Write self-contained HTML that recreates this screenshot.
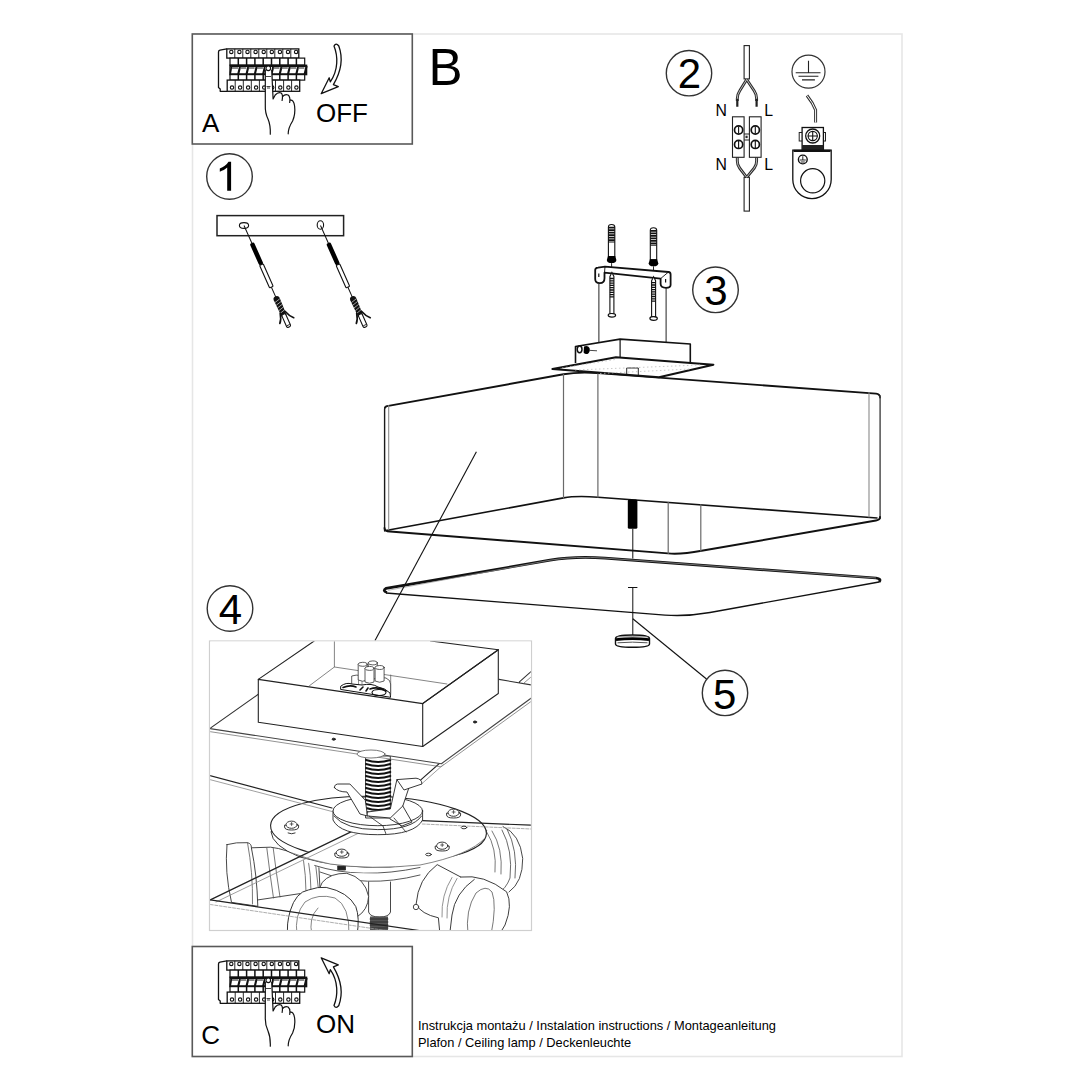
<!DOCTYPE html>
<html><head><meta charset="utf-8">
<style>
html,body{margin:0;padding:0;background:#fff;width:1090px;height:1090px;overflow:hidden}
svg{position:absolute;left:0;top:0;display:block}
text{font-family:"Liberation Sans",sans-serif;fill:#000}
</style></head><body>
<svg width="1090" height="1090" viewBox="0 0 1090 1090">
<!-- outer frame -->
<rect x="192.5" y="34" width="709.5" height="1022.5" fill="none" stroke="#e6e6e6" stroke-width="1.6"/>
<!-- box A / C -->
<rect x="192.3" y="34" width="220" height="110" fill="#fff" stroke="#595959" stroke-width="1.6"/>
<rect x="192.3" y="946.5" width="220" height="110" fill="#fff" stroke="#595959" stroke-width="1.6"/>
<text x="202" y="132.4" font-size="26">A</text>
<text x="316" y="121.8" font-size="26">OFF</text>
<text x="201.3" y="1044" font-size="26">C</text>
<text x="316" y="1033" font-size="26">ON</text>
<text x="428.5" y="84.5" font-size="51">B</text>
<!-- circles -->
<g fill="none" stroke="#333" stroke-width="1.4">
<circle cx="229.5" cy="176.5" r="22.8"/>
<circle cx="689" cy="73.2" r="22.7"/>
<circle cx="715.5" cy="289.8" r="22.8"/>
<circle cx="230" cy="608.5" r="22.8"/>
<circle cx="725" cy="692.9" r="22.7"/>
</g>
<path d="M227.2,190.7 H231.1 V161.8 H228.5 C226.5,165 223.5,167 219.8,168.4 V171.7 C222.5,170.8 225.3,169.5 227.2,167.6 Z" fill="#000"/>
<g font-size="42" text-anchor="middle">
<text x="689.5" y="88">2</text>
<text x="716" y="304.8">3</text>
<text x="230.5" y="623.6">4</text>
<text x="724.8" y="708.6">5</text>
</g>
<text x="418" y="1030" font-size="12.83">Instrukcja montażu / Instalation instructions / Montageanleitung</text>
<text x="418" y="1047" font-size="12.83">Plafon / Ceiling lamp / Deckenleuchte</text>
<!-- SHADE -->
<g fill="none" stroke="#111" stroke-linecap="round" stroke-linejoin="round">
<path stroke-width="1.9" d="M385,407.6 Q385.5,406.5 387,406.1 L563.5,374.3 Q578,371.7 598,373.1 L876,393.6 Q880,394.2 880.1,397.5"/>
<path stroke-width="1.4" stroke="#1a1a1a" d="M384.6,531 V409 Q384.6,407 386,406.3"/>
<path stroke-width="1.4" stroke="#444" d="M880.1,396 V518.5"/>
<path stroke-width="1.6" d="M386,530.5 L563.5,497.9 Q576,495.6 598,497.2 L877,518"/>
<path stroke-width="1.9" d="M384.5,528 Q384.5,531.5 390,531.5 L668,553.4 Q681,554.6 701.6,550.8 L876,520.5 Q880,519.8 880,517"/>
<path stroke-width="1.1" stroke="#8a8a8a" d="M388.7,405.5 V529.5 M869,392.6 V517"/><path stroke-width="1.2" stroke="#6a6a6a" d="M563.5,374.3 V497.9 M597.9,373.1 V497.2 M668.2,502.3 V553.4 M700.8,504.7 V551"/>
</g>
<!-- rod / diffuser / knob -->
<rect x="627.8" y="499.4" width="9.6" height="29.3" rx="1.5" fill="#000"/>
<path d="M632.8,528.7 V558.6" stroke="#111" stroke-width="1" fill="none"/>
<g fill="none" stroke="#111" stroke-linejoin="round">
<path stroke-width="2.7" d="M387,592.5 Q382,591 386,588.3 L550,560.2 Q575.2,555.9 605,558.1 L876,578 Q882,578.8 879,582"/><path stroke-width="0.7" stroke="#999" d="M388,590.3 L550,560.2 Q575.2,555.9 605,558.1 L876,578"/>
<path stroke-width="1.3" d="M386,593 L665,615.06 Q686.3,616.66 710,612.5 L879,582"/>
</g>
<path d="M628,587.5 H637.4 M632.8,587.5 V636" stroke="#111" stroke-width="1" fill="none"/>
<g fill="none" stroke="#111">
<path d="M615.5,638.5 Q615.5,635 632.5,635 Q649.5,635 649.5,638.5 V644 Q649.5,647.3 632.5,647.3 Q615.5,647.3 615.5,644 Z" fill="#fff" stroke="#111" stroke-width="1.4"/>
<path d="M616,639.6 Q632.5,637.6 649,639.6" stroke="#000" stroke-width="2.6"/>
<path d="M617,637 Q632.5,636 648,637" stroke="#777" stroke-width="0.7"/>
<path d="M617.5,642.8 Q632.5,641.5 647.5,642.8" stroke="#555" stroke-width="1"/>
</g>
<!-- leader lines -->
<path d="M476.4,451.8 L375,640.5" stroke="#111" stroke-width="1.1" fill="none"/>
<path d="M632.8,618.7 L706.5,679" stroke="#111" stroke-width="1.1" fill="none"/>
<!-- SECTION 3 -->
<g transform="translate(611.6,224.5)">
<path d="M-3.2,2.5 Q-3.2,0 0,0 Q3.2,0 3.2,2.5 V32.2 H-3.2 Z" fill="#fff" stroke="#111" stroke-width="1.1"/>
<path d="M-3.2,3.2 H3.2 M-3.2,5.7 H3.2 M-3.2,8.2 H3.2 M-3.2,10.7 H3.2 M-3.2,13.2 H3.2 M-3.2,15.7 H3.2" stroke="#111" stroke-width="1.7"/><path d="M-3.2,17.5 H3.2" stroke="#111" stroke-width="1"/>
<path d="M-3.6,31.5 H3.6 L4.8,35.5 Q4.8,38.6 0,38.6 Q-4.8,38.6 -4.8,35.5 Z" fill="#000"/>
<path d="M0,38.6 V43" stroke="#111" stroke-width="0.9"/>
</g><g transform="translate(653.5,227.7)">
<path d="M-3.2,2.5 Q-3.2,0 0,0 Q3.2,0 3.2,2.5 V32.2 H-3.2 Z" fill="#fff" stroke="#111" stroke-width="1.1"/>
<path d="M-3.2,3.2 H3.2 M-3.2,5.7 H3.2 M-3.2,8.2 H3.2 M-3.2,10.7 H3.2 M-3.2,13.2 H3.2 M-3.2,15.7 H3.2" stroke="#111" stroke-width="1.7"/><path d="M-3.2,17.5 H3.2" stroke="#111" stroke-width="1"/>
<path d="M-3.6,31.5 H3.6 L4.8,35.5 Q4.8,38.6 0,38.6 Q-4.8,38.6 -4.8,35.5 Z" fill="#000"/>
<path d="M0,38.6 V43" stroke="#111" stroke-width="0.9"/>
</g>
<g fill="#fff" stroke="#111" stroke-linejoin="round">
<path stroke-width="1.8" d="M595.2,270 Q595.2,267.8 598,267.6 L605,266.7 L668.5,272 Q670.6,272.3 670.6,274.5 V285 Q670.6,287.8 666,287.8 Q660.8,287.8 660.6,284 V278.6 L604.5,272.6 V278.3 Q604.5,283.2 599.8,283.2 Q595.2,283.2 595.2,279 Z"/>
<path stroke-width="0.9" fill="none" d="M604.5,272.6 L605,266.7 M660.6,278.6 L668.5,272"/>
<path stroke-width="1.2" fill="none" d="M598.8,273.5 V277 M665.6,279 V282.5"/>
</g>
<g transform="translate(611.9,272.5)">
<path d="M-2,4 L0,0 L2,4 V41 H-2 Z" fill="#fff" stroke="#111" stroke-width="1.1"/>
<path d="M-2,6 H2 M-2,8.3 H2 M-2,10.6 H2 M-2,12.9 H2 M-2,15.2 H2 M-2,17.5 H2 M-2,19.8 H2 M-2,22.1 H2 M-2,24.4 H2" stroke="#111" stroke-width="1.3"/>
<ellipse cx="0" cy="42.8" rx="3.7" ry="1.8" fill="#fff" stroke="#111" stroke-width="1.2"/>
</g><g transform="translate(653.6,276.7)">
<path d="M-2,4 L0,0 L2,4 V40 H-2 Z" fill="#fff" stroke="#111" stroke-width="1.1"/>
<path d="M-2,6 H2 M-2,8.3 H2 M-2,10.6 H2 M-2,12.9 H2 M-2,15.2 H2 M-2,17.5 H2 M-2,19.8 H2 M-2,22.1 H2 M-2,24.4 H2" stroke="#111" stroke-width="1.3"/>
<ellipse cx="0" cy="41.8" rx="3.7" ry="1.8" fill="#fff" stroke="#111" stroke-width="1.2"/>
</g>
<path d="M598.9,283.2 V342.5 M666.1,287.8 V343.4" stroke="#222" stroke-width="1" fill="none"/>
<!-- canopy -->
<g stroke="#111" stroke-linejoin="round">
<path d="M575.5,363 V346.5 L620.1,339.1 L690.3,344 V362.2" fill="#fff" stroke-width="1.6"/>
<path d="M620.1,339.1 V357.5" fill="none" stroke-width="1.2"/>
<path d="M552.4,369.1 L616,357.2 L713.4,364.7 L659,377.2 Z" fill="#fff" stroke-width="2"/>
<path d="M626.7,374.5 V368 H638.3 V375.5" fill="none" stroke-width="0.9"/>
</g>
<ellipse cx="579.6" cy="349.3" rx="2.4" ry="3.4" fill="#fff" stroke="#111" stroke-width="1.5"/><path d="M584,346.5 Q588,345.2 589.5,348 Q590.5,351.5 588,353.8 Q585,354.6 583.6,352.5 Z" fill="#000"/>
<path d="M589,350.3 L597,350.8" stroke="#333" stroke-width="0.9" fill="none"/>
<g stroke="#bbb" stroke-width="0.8" stroke-dasharray="1.5 2.5" fill="none">
<path d="M562,368 L615,359.5 M575,370 L700,365 M600,373.5 L690,369"/>
</g>
<!-- SECTION 1 -->
<rect x="217" y="215.6" width="126.6" height="20.1" fill="#fff" stroke="#222" stroke-width="1.5"/>
<ellipse cx="244" cy="225.5" rx="4.6" ry="2.9" fill="none" stroke="#111" stroke-width="1.1"/>
<ellipse cx="320.4" cy="225" rx="3.2" ry="4.3" fill="none" stroke="#111" stroke-width="1.1"/>
<g transform="translate(244,225.5) rotate(66.04)">
<path d="M0,0 H19.5 M67.5,0 H78.1" stroke="#111" stroke-width="1"/>
<rect x="19.1" y="-2.3" width="23.9" height="4.6" rx="1.8" fill="#000"/>
<rect x="42.8" y="-2" width="24.7" height="4" rx="1" fill="#fff" stroke="#111" stroke-width="1.1"/>
<path d="M77.5,0 Q77.8,-3.2 80.5,-3.2 L99,-2.6 L99,2.6 L80.5,3.2 Q77.8,3.2 77.5,0 Z" fill="#111"/>
<path d="M81.5,-3 L83,3 M84.5,-3 L86,3 M87.5,-3 L89,3 M90.5,-2.8 L92,2.8 M93.5,-2.7 L95,2.7" stroke="#fff" stroke-width="0.55"/>
<path d="M95,-2.6 Q101,-4.5 104.5,-8 M95,2.6 Q101,4 104,7" stroke="#111" stroke-width="1.7" fill="none" stroke-linecap="round"/>
<rect x="97" y="-2.1" width="14" height="4.2" rx="1.5" fill="#fff" stroke="#111" stroke-width="1.1"/>
<path d="M109,-1.6 V1.6" stroke="#111" stroke-width="0.8"/>
</g><g transform="translate(320.5,225.5) rotate(66.04)">
<path d="M0,0 H19.5 M67.5,0 H78.1" stroke="#111" stroke-width="1"/>
<rect x="19.1" y="-2.3" width="23.9" height="4.6" rx="1.8" fill="#000"/>
<rect x="42.8" y="-2" width="24.7" height="4" rx="1" fill="#fff" stroke="#111" stroke-width="1.1"/>
<path d="M77.5,0 Q77.8,-3.2 80.5,-3.2 L99,-2.6 L99,2.6 L80.5,3.2 Q77.8,3.2 77.5,0 Z" fill="#111"/>
<path d="M81.5,-3 L83,3 M84.5,-3 L86,3 M87.5,-3 L89,3 M90.5,-2.8 L92,2.8 M93.5,-2.7 L95,2.7" stroke="#fff" stroke-width="0.55"/>
<path d="M95,-2.6 Q101,-4.5 104.5,-8 M95,2.6 Q101,4 104,7" stroke="#111" stroke-width="1.7" fill="none" stroke-linecap="round"/>
<rect x="97" y="-2.1" width="14" height="4.2" rx="1.5" fill="#fff" stroke="#111" stroke-width="1.1"/>
<path d="M109,-1.6 V1.6" stroke="#111" stroke-width="0.8"/>
</g>
<!-- SECTION 2 -->
<g fill="#fff" stroke="#222" stroke-width="1.1">
<rect x="744.1" y="45.6" width="5.3" height="33.3"/>
<rect x="744.1" y="177.3" width="5.3" height="33.8"/>
</g>
<g fill="none" stroke="#222" stroke-linecap="butt">
<path d="M746.7,79.5 L739.6,91 Q737.3,94.5 737.3,98.5 V101 M746.7,79.5 L754.3,91 Q756.6,94.5 756.6,98.5 V101" stroke-width="2.9" stroke="#2a2a2a"/>
<path d="M746.7,79.5 L739.6,91 Q737.3,94.5 737.3,98.5 V101 M746.7,79.5 L754.3,91 Q756.6,94.5 756.6,98.5 V101" stroke-width="0.9" stroke="#ccc"/>
<path d="M737.3,99 V106.7 M756.6,99 V106.7" stroke-width="2.2" stroke="#222"/>
<path d="M737.3,157.3 V161 Q737.3,165 739.6,168 L746.7,177.3 M756.6,157.3 V161 Q756.6,165 754.3,168 L746.7,177.3" stroke-width="2.9" stroke="#2a2a2a"/>
<path d="M737.3,157.3 V161 Q737.3,165 739.6,168 L746.7,177.3 M756.6,157.3 V161 Q756.6,165 754.3,168 L746.7,177.3" stroke-width="0.9" stroke="#ccc"/>
</g>
<g fill="#fff" stroke="#222" stroke-width="1.1">
<rect x="732.5" y="116.8" width="11.6" height="40.5"/>
<rect x="749.4" y="116.8" width="11.7" height="40.5"/>
<path d="M744.1,134 H749.4 M744.1,140 H749.4" fill="none"/>
<rect x="745.8" y="136" width="1.8" height="1.8" stroke-width="0.6"/>
</g>
<g fill="#fff" stroke="#111" stroke-width="1.7">
<circle cx="738.6" cy="130" r="4.1"/><circle cx="738.6" cy="144.4" r="4.1"/>
<circle cx="755.3" cy="130" r="4.1"/><circle cx="755.3" cy="144.4" r="4.1"/>
</g>
<path d="M738.6,126.5 V133.5 M738.6,141 V148 M755.3,126.5 V133.5 M755.3,141 V148" stroke="#111" stroke-width="1.1"/>
<g font-size="15.8">
<text x="715.6" y="116.1">N</text><text x="764.3" y="116.1">L</text>
<text x="715.6" y="170.2">N</text><text x="764.3" y="170.2">L</text>
</g>
<!-- ground -->
<circle cx="808.5" cy="71.7" r="16.5" fill="none" stroke="#333" stroke-width="1.2"/>
<path d="M808.5,60.7 V72.7 M795.7,72.7 H820.5 M798.5,76.3 H818.4 M802,79.9 H814.9" stroke="#222" stroke-width="1.1" fill="none"/>
<path d="M807,95.5 Q813,103 815.6,110 V122.5" stroke="#333" stroke-width="3" fill="none"/>
<path d="M807,95.5 Q813,103 815.6,110 V122.5" stroke="#fff" stroke-width="1" fill="none"/>
<path d="M792.8,150.2 H831.2 V179.4 A19.2,19.2 0 0 1 792.8,179.4 Z" fill="#fff" stroke="#111" stroke-width="1.3"/>
<path d="M793.5,150.8 H830.5" stroke="#111" stroke-width="2.2"/>
<circle cx="812.7" cy="180.8" r="12.1" fill="none" stroke="#111" stroke-width="1.2"/>
<circle cx="802.8" cy="159.5" r="4.4" fill="none" stroke="#111" stroke-width="1.4"/>
<path d="M802.8,156.2 V160 M799.8,160 H805.8 M800.8,162 H804.8" stroke="#111" stroke-width="0.9"/>
<rect x="799.2" y="132.5" width="26.3" height="8.5" fill="#fff" stroke="#222" stroke-width="1"/>
<rect x="802.1" y="127.5" width="21.3" height="22" fill="#fff" stroke="#111" stroke-width="1.3"/>
<rect x="802.1" y="145" width="21.3" height="4.5" fill="#222"/>
<circle cx="812.7" cy="136" r="7" fill="#fff" stroke="#111" stroke-width="1.3"/>
<circle cx="812.7" cy="136" r="4.6" fill="none" stroke="#111" stroke-width="1.1"/>
<path d="M812.7,131 V141 M807.7,136 H817.7" stroke="#111" stroke-width="1.1"/>
<!-- BOX A/C icons -->
<g transform="translate(0,0)">
<path d="M226.8,48.9 L220,50.2 Q218.5,50.6 218.5,52 V87.6 L220.2,89 V91.3 H227.2" fill="#fff" stroke="#111" stroke-width="1.3" stroke-linejoin="round"/>
<rect x="226.8" y="48.9" width="72" height="9.2" fill="#fff" stroke="#111" stroke-width="1.3"/>
<path d="M234.8,48.9 V58.1 M242.8,48.9 V58.1 M250.8,48.9 V58.1 M258.8,48.9 V58.1 M266.8,48.9 V58.1 M274.8,48.9 V58.1 M282.8,48.9 V58.1 M290.8,48.9 V58.1 " stroke="#111" stroke-width="0.9"/>
<circle cx="231.3" cy="51.9" r="1.7" fill="#fff" stroke="#111" stroke-width="1.1"/>
<circle cx="239.4" cy="51.9" r="1.7" fill="#fff" stroke="#111" stroke-width="1.1"/>
<circle cx="247.5" cy="51.9" r="1.7" fill="#fff" stroke="#111" stroke-width="1.1"/>
<circle cx="255.6" cy="51.9" r="1.7" fill="#fff" stroke="#111" stroke-width="1.1"/>
<circle cx="263.7" cy="51.9" r="1.7" fill="#fff" stroke="#111" stroke-width="1.1"/>
<circle cx="271.8" cy="51.9" r="1.7" fill="#fff" stroke="#111" stroke-width="1.1"/>
<circle cx="279.9" cy="51.9" r="1.7" fill="#fff" stroke="#111" stroke-width="1.1"/>
<circle cx="288.0" cy="51.9" r="1.7" fill="#fff" stroke="#111" stroke-width="1.1"/>
<circle cx="296.1" cy="51.9" r="1.7" fill="#fff" stroke="#111" stroke-width="1.1"/>
<rect x="230" y="58.1" width="74.7" height="7" fill="#fff" stroke="#111" stroke-width="1.2"/>
<path d="M238.3,58.1 V65.1 M246.6,58.1 V65.1 M254.9,58.1 V65.1 M263.2,58.1 V65.1 M271.5,58.1 V65.1 M279.8,58.1 V65.1 M288.1,58.1 V65.1 M296.4,58.1 V65.1 " stroke="#111" stroke-width="1.5"/>
<rect x="230" y="65.3" width="76.6" height="9.3" fill="#fff" stroke="#111" stroke-width="1.4"/>
<path d="M231.6,66 L230.2,74" stroke="#111" stroke-width="1.6"/><path d="M240.2,66 L238.2,74.2 M248.5,66 L246.5,74.2 M256.8,66 L254.8,74.2 M265.1,66 L263.1,74.2 M273.4,66 L271.4,74.2 M281.7,66 L279.7,74.2 M290.0,66 L288.0,74.2 M298.3,66 L296.3,74.2 M306.6,66 L304.6,74.2 " stroke="#111" stroke-width="2.1"/>
<path d="M230,66.1 H306.6 M230,74 H306.6" stroke="#111" stroke-width="1.7"/><path d="M232,68 H305" stroke="#666" stroke-width="1.3" stroke-dasharray="6 2.3"/>
<rect x="230" y="74.6" width="74.7" height="5.5" fill="#fff" stroke="#111" stroke-width="1.2"/>
<path d="M238.3,74.6 V80.1 M246.6,74.6 V80.1 M254.9,74.6 V80.1 M263.2,74.6 V80.1 M271.5,74.6 V80.1 M279.8,74.6 V80.1 M288.1,74.6 V80.1 M296.4,74.6 V80.1 " stroke="#111" stroke-width="1.5"/>
<rect x="227.2" y="80.1" width="72.5" height="11.2" fill="#fff" stroke="#111" stroke-width="1.3"/>
<path d="M235.2,80.1 V91.3 M243.3,80.1 V91.3 M251.3,80.1 V91.3 M259.4,80.1 V91.3 M267.4,80.1 V91.3 M275.5,80.1 V91.3 M283.6,80.1 V91.3 M291.6,80.1 V91.3 " stroke="#111" stroke-width="0.9"/>
<circle cx="232.0" cy="87.6" r="1.7" fill="#fff" stroke="#111" stroke-width="1.1"/>
<circle cx="240.1" cy="87.6" r="1.7" fill="#fff" stroke="#111" stroke-width="1.1"/>
<circle cx="248.1" cy="87.6" r="1.7" fill="#fff" stroke="#111" stroke-width="1.1"/>
<circle cx="256.1" cy="87.6" r="1.7" fill="#fff" stroke="#111" stroke-width="1.1"/>
<circle cx="264.2" cy="87.6" r="1.7" fill="#fff" stroke="#111" stroke-width="1.1"/>
<circle cx="272.2" cy="87.6" r="1.7" fill="#fff" stroke="#111" stroke-width="1.1"/>
<circle cx="280.3" cy="87.6" r="1.7" fill="#fff" stroke="#111" stroke-width="1.1"/>
<circle cx="288.4" cy="87.6" r="1.7" fill="#fff" stroke="#111" stroke-width="1.1"/>
<circle cx="296.4" cy="87.6" r="1.7" fill="#fff" stroke="#111" stroke-width="1.1"/>
<path d="M265.3,67 H271.7 L273,99 L281,92 L289,94 L294.5,104 L293,121 L288.2,134.5 H270.3 L268,119 L265.3,105 Z" fill="#fff"/>
<path d="M265.3,70 V105 Q265,113 268,119 Q270.6,125 270.3,134.2 M271.7,70 L273.1,99 L275.2,95 Q278.2,91.6 281.2,93 Q283.2,94.5 282.1,100.5 M282.6,96.5 Q285.2,93.6 288.1,95 Q290.6,97 289.7,102.5 M289.8,100.2 Q293.6,99 294.6,106 Q295.6,114 292.6,121 Q288.2,128 288.2,133.8" fill="none" stroke="#111" stroke-width="1.2" stroke-linecap="round" stroke-linejoin="round"/>
<circle cx="268.3" cy="68.3" r="2.3" fill="#fff" stroke="#111" stroke-width="1.1"/>
<path d="M266,76.5 H271 M266.5,86.5 H270.5 M267,88 H270" stroke="#111" stroke-width="0.8"/>
</g>
<path d="M334,46 Q336,42.2 338.8,46 C342.5,56 342,70 333.4,84.6 L338.3,86.6 L321.2,93.7 L329.2,77.8 L330.3,81.8 C338.5,70 338,56 334,46 Z" fill="#fff" stroke="#111" stroke-width="1.3" stroke-linejoin="round"/>
<g transform="translate(0,912)">
<path d="M226.8,48.9 L220,50.2 Q218.5,50.6 218.5,52 V87.6 L220.2,89 V91.3 H227.2" fill="#fff" stroke="#111" stroke-width="1.3" stroke-linejoin="round"/>
<rect x="226.8" y="48.9" width="72" height="9.2" fill="#fff" stroke="#111" stroke-width="1.3"/>
<path d="M234.8,48.9 V58.1 M242.8,48.9 V58.1 M250.8,48.9 V58.1 M258.8,48.9 V58.1 M266.8,48.9 V58.1 M274.8,48.9 V58.1 M282.8,48.9 V58.1 M290.8,48.9 V58.1 " stroke="#111" stroke-width="0.9"/>
<circle cx="231.3" cy="51.9" r="1.7" fill="#fff" stroke="#111" stroke-width="1.1"/>
<circle cx="239.4" cy="51.9" r="1.7" fill="#fff" stroke="#111" stroke-width="1.1"/>
<circle cx="247.5" cy="51.9" r="1.7" fill="#fff" stroke="#111" stroke-width="1.1"/>
<circle cx="255.6" cy="51.9" r="1.7" fill="#fff" stroke="#111" stroke-width="1.1"/>
<circle cx="263.7" cy="51.9" r="1.7" fill="#fff" stroke="#111" stroke-width="1.1"/>
<circle cx="271.8" cy="51.9" r="1.7" fill="#fff" stroke="#111" stroke-width="1.1"/>
<circle cx="279.9" cy="51.9" r="1.7" fill="#fff" stroke="#111" stroke-width="1.1"/>
<circle cx="288.0" cy="51.9" r="1.7" fill="#fff" stroke="#111" stroke-width="1.1"/>
<circle cx="296.1" cy="51.9" r="1.7" fill="#fff" stroke="#111" stroke-width="1.1"/>
<rect x="230" y="58.1" width="74.7" height="7" fill="#fff" stroke="#111" stroke-width="1.2"/>
<path d="M238.3,58.1 V65.1 M246.6,58.1 V65.1 M254.9,58.1 V65.1 M263.2,58.1 V65.1 M271.5,58.1 V65.1 M279.8,58.1 V65.1 M288.1,58.1 V65.1 M296.4,58.1 V65.1 " stroke="#111" stroke-width="1.5"/>
<rect x="230" y="65.3" width="76.6" height="9.3" fill="#fff" stroke="#111" stroke-width="1.4"/>
<path d="M231.6,66 L230.2,74" stroke="#111" stroke-width="1.6"/><path d="M240.2,66 L238.2,74.2 M248.5,66 L246.5,74.2 M256.8,66 L254.8,74.2 M265.1,66 L263.1,74.2 M273.4,66 L271.4,74.2 M281.7,66 L279.7,74.2 M290.0,66 L288.0,74.2 M298.3,66 L296.3,74.2 M306.6,66 L304.6,74.2 " stroke="#111" stroke-width="2.1"/>
<path d="M230,66.1 H306.6 M230,74 H306.6" stroke="#111" stroke-width="1.7"/><path d="M232,68 H305" stroke="#666" stroke-width="1.3" stroke-dasharray="6 2.3"/>
<rect x="230" y="74.6" width="74.7" height="5.5" fill="#fff" stroke="#111" stroke-width="1.2"/>
<path d="M238.3,74.6 V80.1 M246.6,74.6 V80.1 M254.9,74.6 V80.1 M263.2,74.6 V80.1 M271.5,74.6 V80.1 M279.8,74.6 V80.1 M288.1,74.6 V80.1 M296.4,74.6 V80.1 " stroke="#111" stroke-width="1.5"/>
<rect x="227.2" y="80.1" width="72.5" height="11.2" fill="#fff" stroke="#111" stroke-width="1.3"/>
<path d="M235.2,80.1 V91.3 M243.3,80.1 V91.3 M251.3,80.1 V91.3 M259.4,80.1 V91.3 M267.4,80.1 V91.3 M275.5,80.1 V91.3 M283.6,80.1 V91.3 M291.6,80.1 V91.3 " stroke="#111" stroke-width="0.9"/>
<circle cx="232.0" cy="87.6" r="1.7" fill="#fff" stroke="#111" stroke-width="1.1"/>
<circle cx="240.1" cy="87.6" r="1.7" fill="#fff" stroke="#111" stroke-width="1.1"/>
<circle cx="248.1" cy="87.6" r="1.7" fill="#fff" stroke="#111" stroke-width="1.1"/>
<circle cx="256.1" cy="87.6" r="1.7" fill="#fff" stroke="#111" stroke-width="1.1"/>
<circle cx="264.2" cy="87.6" r="1.7" fill="#fff" stroke="#111" stroke-width="1.1"/>
<circle cx="272.2" cy="87.6" r="1.7" fill="#fff" stroke="#111" stroke-width="1.1"/>
<circle cx="280.3" cy="87.6" r="1.7" fill="#fff" stroke="#111" stroke-width="1.1"/>
<circle cx="288.4" cy="87.6" r="1.7" fill="#fff" stroke="#111" stroke-width="1.1"/>
<circle cx="296.4" cy="87.6" r="1.7" fill="#fff" stroke="#111" stroke-width="1.1"/>
<path d="M265.3,67 H271.7 L273,99 L281,92 L289,94 L294.5,104 L293,121 L288.2,134.5 H270.3 L268,119 L265.3,105 Z" fill="#fff"/>
<path d="M265.3,70 V105 Q265,113 268,119 Q270.6,125 270.3,134.2 M271.7,70 L273.1,99 L275.2,95 Q278.2,91.6 281.2,93 Q283.2,94.5 282.1,100.5 M282.6,96.5 Q285.2,93.6 288.1,95 Q290.6,97 289.7,102.5 M289.8,100.2 Q293.6,99 294.6,106 Q295.6,114 292.6,121 Q288.2,128 288.2,133.8" fill="none" stroke="#111" stroke-width="1.2" stroke-linecap="round" stroke-linejoin="round"/>
<circle cx="268.3" cy="68.3" r="2.3" fill="#fff" stroke="#111" stroke-width="1.1"/>
<path d="M266,76.5 H271 M266.5,86.5 H270.5 M267,88 H270" stroke="#111" stroke-width="0.8"/>
</g>
<g transform="matrix(1,0,0,-1,0,1051.5)"><path d="M334,46 Q336,42.2 338.8,46 C342.5,56 342,70 333.4,84.6 L338.3,86.6 L321.2,93.7 L329.2,77.8 L330.3,81.8 C338.5,70 338,56 334,46 Z" fill="#fff" stroke="#111" stroke-width="1.3" stroke-linejoin="round"/></g>
<!-- SECTION 4 -->
<clipPath id="c4"><rect x="210.2" y="641.6" width="320.6" height="288.4"/></clipPath>
<rect x="209.5" y="641" width="322" height="289.5" fill="#fff" stroke="#cfcfcf" stroke-width="1.2"/>
<g clip-path="url(#c4)" fill="none" stroke-linejoin="round" stroke-linecap="round">
<!-- right back socket -->
<path d="M466,834 L511.5,826 Q524,838 522.7,858.4 Q521,885 509,892.5 L470,880 Z" fill="#fff"/>
<g stroke="#333" stroke-width="0.9" fill="none">
<path d="M503,826.5 Q520,834 522.7,858.4 Q523,882 509,892"/>
<path d="M486.7,832 Q497,848 495,872 M492,831 Q503,848 501,874" stroke="#555" stroke-width="0.8"/>
<path d="M502,830 Q513,850 510,878 Q506,889 498,893 M507,829 Q518,850 515,878" stroke="#444" stroke-width="0.8"/>
</g>
<!-- left socket -->
<g stroke="#333" stroke-width="0.9" fill="#fff">
<path d="M251.4,847.8 L270.6,847.2 L278.4,848.5 L318.5,860 L320,889 L301.5,893.4 L254,900.5 Z"/>
<path d="M227,844.6 Q236,842 247.5,842.7 Q251.5,843.5 251.4,847.8 Q257,875 257.8,906.3 L231.5,902.4 Q224.5,872 227,844.6 Z"/>
<path d="M247.5,842.7 Q253,872 252.5,904" stroke="#555" stroke-width="0.8"/>
<path d="M266.8,848 Q270,875 273.5,898 M273.2,848 Q276.5,875 280,897 M303.1,857 Q306,876 306,892 M308,858 Q311,876 311,891 M315,859 L318.5,890" stroke="#555" stroke-width="0.8"/>
</g>
<!-- disc underside parts -->
<g stroke="#333" stroke-width="0.9" fill="#fff">
<path d="M300,858 Q320,872 360,876 Q420,878 470,850 L470,842 L300,842 Z" stroke="none"/>
<path d="M314.7,865.5 Q360,880 420,867.5" stroke="#444"/>
<path d="M320,872 Q365,889 420,875" stroke="#444"/>
<path d="M338,866 H345.5 V870 H338 Z" fill="#222"/>
<path d="M368.6,882 V912 Q370,917 379.5,917 Q389,917 390.5,912 V882" />
<rect x="370" y="916.5" width="18" height="18" fill="#555" stroke="none"/>
<path d="M370,919 H388 M370,922 H388 M370,925 H388 M370,928 H388 M370,931 H388" stroke="#222" stroke-width="0.8"/>
</g>
<!-- disc -->
<g stroke="#222" fill="#fff">
<path d="M271,832 Q272,846 300,857 Q340,869 390,867 Q450,862 484,840 L486.6,831 Z" stroke-width="0.9"/>
<ellipse cx="378.5" cy="829.5" rx="108" ry="33" transform="rotate(2.2 378.5 829.5)" stroke-width="1.1"/>
<path d="M292,853 Q310,860 330,864 Q370,870 420,865 Q470,855 485,838" stroke-width="0.8" stroke="#666"/>
</g>
<!-- front left socket -->
<g stroke="#333" stroke-width="0.9" fill="#fff">
<path d="M322.4,882.2 Q330,873 346.8,873.3 Q365,878 368.6,896.4 Q368,910 357,916.9 L340,935 L300,935 Z"/>
<path d="M290.3,910.5 Q296,892 308.3,890 Q318,886.5 326.2,887.4 Q348,892 355.8,906.6 Q360,918 357,935 M290.3,910.5 Q286,925 288,935" stroke-width="1"/>
<path d="M297,935 Q294,915 305,902 Q318,893 335,898 Q350,906 349,935 M312,935 Q308,918 318,908" stroke="#666" stroke-width="0.8"/>
</g>
<!-- front right socket -->
<path d="M437.2,864.6 L460.7,877 Q484,874 506.6,891.8 Q513,905 505,925 L499,935 H440 L438.4,917.8 Q420,912 416.1,904.2 Q416,880 437.2,864.6 Z" fill="#fff"/>
<g stroke="#333" stroke-width="0.95" fill="none">
<path d="M460.7,877 L437.2,864.6 Q418,879 416.1,904.2 Q421,914 438.4,917.8 L440,935"/>
<path d="M460.7,877 Q484,874 506.6,891.8 Q513,905 505,925 L499,935"/>
<path d="M474.3,879.4 Q455,893 452,915 L449.6,935"/>
<path d="M468,935 Q465,910 476,893 Q486,884 492,892 Q497,905 491,935" stroke="#555" stroke-width="0.8"/>
<path d="M452,877.5 Q441,895 442,917 M457,878.5 Q446,896 447,918" stroke="#777" stroke-width="0.8"/>
</g>
<circle cx="416" cy="907" r="2.7" fill="#fff" stroke="#333" stroke-width="0.9"/>
<!-- diffuser lines (front) -->
<path d="M209.5,775.5 L332,808" stroke="#222" stroke-width="1.2"/>
<path d="M209.5,779.5 L332,811.5" stroke="#888" stroke-width="0.8"/>
<path d="M422.3,820.6 L531,825.2" stroke="#222" stroke-width="1.2"/>
<path d="M422.3,824 L531,829" stroke="#999" stroke-width="0.8" stroke-dasharray="3 1.5"/>
<path d="M210.3,899.9 L358.7,828.1" stroke="#222" stroke-width="1.2"/>
<path d="M216,902 L361,832" stroke="#888" stroke-width="0.8"/>
<path d="M418.8,781.6 L441,762" stroke="#222" stroke-width="1.1"/>
<path d="M421.5,784 L443.5,764.5" stroke="#888" stroke-width="0.8"/>
<!-- bottom lines -->
<path d="M210.3,899.9 L531,947" stroke="#222" stroke-width="1.2"/>
<path d="M210.3,904.5 L531,952" stroke="#999" stroke-width="0.8" stroke-dasharray="3 1.5"/>
<!-- screws on disc -->
<g stroke="#222" stroke-width="0.9" fill="#fff">
<g transform="translate(291.6,825.5)"><path d="M-7,0 V1.5 Q-7,4.5 0,4.5 Q7,4.5 7,1.5 V0 Z"/><ellipse cx="0" cy="-0.8" rx="5.6" ry="3.6"/><path d="M-1.5,-1.5 H1.5 M0,-3 V0" stroke-width="0.7"/><path d="M-3.5,7.5 Q0,9.2 3.5,7.5"/></g>
<g transform="translate(341.8,853.5)"><path d="M-7,0 V1.5 Q-7,4.5 0,4.5 Q7,4.5 7,1.5 V0 Z"/><ellipse cx="0" cy="-0.8" rx="5.6" ry="3.6"/><path d="M-1.5,-1.5 H1.5 M0,-3 V0" stroke-width="0.7"/></g>
<g transform="translate(442.2,846.5)"><path d="M-7,0 V1.5 Q-7,4.5 0,4.5 Q7,4.5 7,1.5 V0 Z"/><ellipse cx="0" cy="-0.8" rx="5.6" ry="3.6"/><path d="M-1.5,-1.5 H1.5 M0,-3 V0" stroke-width="0.7"/></g>
<g transform="translate(453.6,813.5)"><path d="M-7,0 V1.5 Q-7,4.5 0,4.5 Q7,4.5 7,1.5 V0 Z"/><ellipse cx="0" cy="-0.8" rx="5.6" ry="3.6"/><path d="M-1.5,-1.5 H1.5 M0,-3 V0" stroke-width="0.7"/></g>
<ellipse cx="428.5" cy="854.5" rx="2.8" ry="1.3"/>
<ellipse cx="464" cy="827.5" rx="2.8" ry="1.3"/>
</g>
<!-- washer -->
<g stroke="#222" stroke-width="0.9" fill="#fff">
<path d="M333,811 V820 Q340,834.7 377.8,834.7 Q415,834.7 422.6,820 V811 Z"/>
<path d="M334,816 Q345,829.6 377.8,829.6 Q412,829.6 421.6,816" fill="none"/>
<ellipse cx="377.8" cy="811" rx="44.8" ry="14.7"/>
</g>
<!-- rod -->
<rect x="366" y="756" width="24.3" height="62" fill="#fff" stroke="#222" stroke-width="0.9"/>
<path d="M366,760 Q378,764 390.3,760 M366,764 Q378,768 390.3,764 M366,768 Q378,772 390.3,768 M366,772 Q378,776 390.3,772 M366,776 Q378,780 390.3,776 M366,780 Q378,784 390.3,780 M366,784 Q378,788 390.3,784 M366,788 Q378,792 390.3,788 M366,792 Q378,796 390.3,792 M366,796 Q378,800 390.3,796 M366,800 Q378,804 390.3,800 M366,804 Q378,808 390.3,804 M366,808 Q378,812 390.3,808 M366,812 Q378,816 390.3,812" stroke="#111" stroke-width="2.1"/>
<!-- wing nut -->
<g stroke="#222" stroke-width="0.9" fill="#fff">
<path d="M334.5,787.7 Q334,783.5 340,784 L349.9,784 L365.3,800.2 L367.5,816 L360,814 L347,792 Q338,792 334.5,787.7 Z"/>
<path d="M367.5,816 L390.3,818 L402.8,806 L408.7,788.4 L421.9,784 Q422,779 416,778.2 L396.9,779.6 L390.3,809 L367.5,812 Z"/>
<path d="M396.9,779.6 L404,790 L408.7,788.4 M390,819 L402,826 L412,822 L402.8,806" fill="none"/>
<path d="M369,816 L383,826 L386,834 M394,818 L406,832" fill="none" stroke-width="0.8"/>
</g>
<!-- plate -->
<g stroke="#222" fill="#fff">
<path d="M209,728.6 L441.4,763.7 L531,698.2 V641 H209 Z" stroke="none"/>
<path d="M209.7,728.6 L441.4,763.7 L531,698.2" stroke-width="1.1" stroke="#444" fill="none"/>
<path d="M209.7,731.6 L441,766.8 L531,701.5" stroke-width="0.8" stroke="#777" fill="none"/>
<path d="M209.7,728.6 L258.3,694.3 M499,679.4 L531,684.9 M519.4,681.8 L531,671.6" stroke-width="1.1" stroke="#333" fill="none"/><path d="M524,683 L531,677" stroke-width="0.8" stroke="#777" fill="none"/>
<ellipse cx="371" cy="754" rx="14" ry="4" stroke-width="0.8" stroke="#555"/>
<ellipse cx="333.7" cy="739.2" rx="1.6" ry="1" fill="#222"/>
<ellipse cx="475" cy="722" rx="1.6" ry="1" fill="#222"/>
</g>
<!-- box -->
<g stroke="#222" fill="#fff" stroke-width="1.1">
<path d="M258.3,679.4 L314.2,641 M430.5,641 L498.3,649.8" fill="none"/>
<path d="M258.3,679.4 L422.7,703.6 L498.3,649.8 V693.5 L422.7,746.5 L258.3,722.3 Z"/>
<path d="M422.7,703.6 V746.5" fill="none"/>
<path d="M334.4,641 V667 L309.5,685.7 M334.4,667 L447,684 M390.7,675 V695" fill="none" stroke="#666" stroke-width="0.8"/>
<path d="M422.7,703.6 L498.3,649.8" fill="none" stroke-width="1.2"/>
</g>
<!-- terminal block inside box -->
<g stroke="#333" stroke-width="0.8" fill="#fff">
<path d="M351.7,690 V676 Q356,674.5 361,675.5 L386,678 Q390.6,680 390.6,684 V693" />
<path d="M358.5,677 V689 M362,677 V689" stroke="#666" stroke-width="0.7" fill="none"/>
<path d="M358.2,664.3 V680 Q362.7,682.5 367.2,680 V664.3 Z"/><ellipse cx="362.7" cy="664.3" rx="4.5" ry="2"/>
<path d="M368.3,662.9 V678 Q372.8,680.5 377.3,678 V662.9 Z"/><ellipse cx="372.8" cy="662.9" rx="4.5" ry="2"/>
<path d="M375.1,667.5 V681 Q379.6,683.5 384.1,681 V667.5 Z"/><ellipse cx="379.6" cy="667.5" rx="4.5" ry="2"/>
<path d="M365,668.4 V682 Q369.5,684.5 374,682 V668.4 Z"/><ellipse cx="369.5" cy="668.4" rx="4.5" ry="2"/>
<path d="M341,686 Q346,682 352,684 L362,685 Q372,683 378,687 Q385,688 390,693 L390.6,697.3 L341,689.5 Z" fill="#fff" stroke="#111" stroke-width="1"/>
<path d="M343,687.5 Q350,684.5 356,687 M370,689 Q378,686 386,691 M360,690 L363,687 M366,691 L368,688" fill="none" stroke="#111" stroke-width="1.6"/>
<ellipse cx="379" cy="692.5" rx="7" ry="3" fill="none" stroke="#111" stroke-width="1.1"/>
</g>
</g>
<!--DRAW-->
</svg>
</body></html>
